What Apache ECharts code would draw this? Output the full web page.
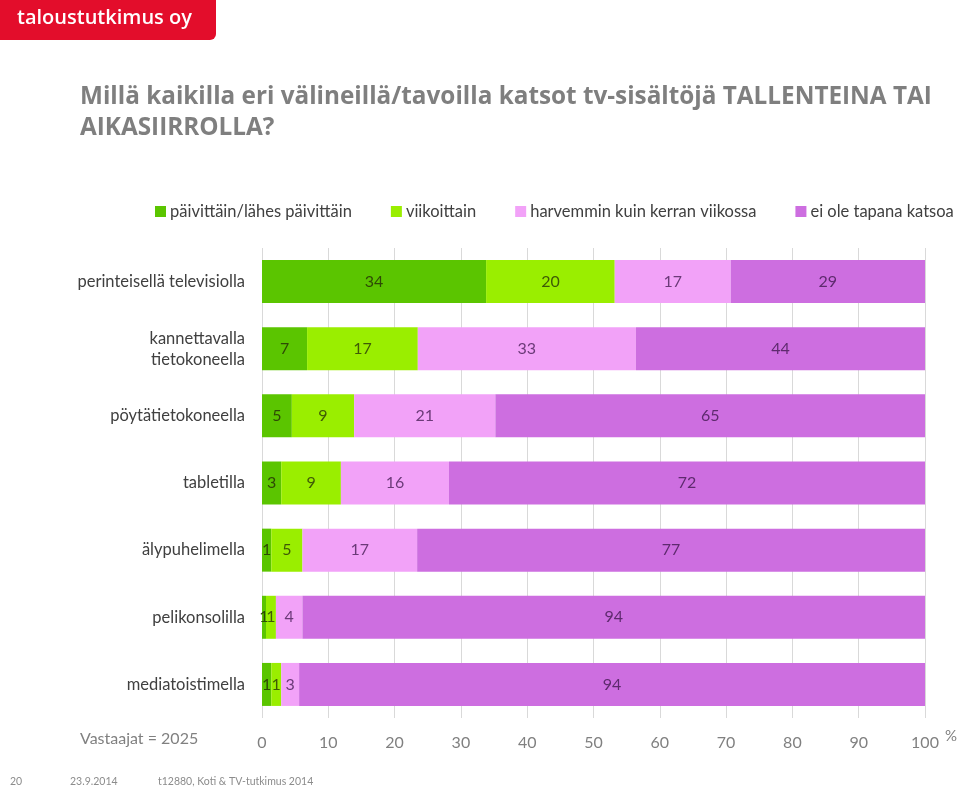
<!DOCTYPE html>
<html><head><meta charset="utf-8">
<script src="https://cdn.jsdelivr.net/npm/echarts@6/dist/echarts.min.js"></script>
<style>html,body{margin:0;padding:0;background:#fff}#c{width:960px;height:788px}</style>
</head><body><div id="c"></div>
<script>
var categories = ['perinteisellä televisiolla','kannettavalla\ntietokoneella','pöytätietokoneella','tabletilla','älypuhelimella','pelikonsolilla','mediatoistimella'];
var seriesNames = ['päivittäin/lähes päivittäin','viikoittain','harvemmin kuin kerran viikossa','ei ole tapana katsoa'];
// segment widths (%)
var daily   = [33.8, 6.8, 4.5, 2.9, 1.4, 0.6, 1.4];
var weekly  = [19.4, 16.7, 9.4, 9.0, 4.7, 1.5, 1.5];
var rarely  = [17.5, 32.9, 21.3, 16.3, 17.3, 4.0, 2.7];
var never   = [29.3, 43.6, 64.9, 71.8, 76.6, 93.9, 94.4];
// printed labels
var dailyLbl  = [34, 7, 5, 3, 1, 1, 1];
var weeklyLbl = [20, 17, 9, 9, 5, 1, 1];
var rarelyLbl = [17, 33, 21, 16, 17, 4, 3];
var neverLbl  = [29, 44, 65, 72, 77, 94, 94];
var xTicks = [0,10,20,30,40,50,60,70,80,90,100];

var colors = ['#5BC500','#9AEE00','#F2A2F8','#CD6EE0'];
var labelColors = ['#2E4A05','#3F5A06','#6B3A78','#5E2A6E'];
var values = [daily, weekly, rarely, never];
var labels = [dailyLbl, weeklyLbl, rarelyLbl, neverLbl];
var FONT = 'Lato, "Open Sans", sans-serif';

var chart = echarts.init(document.getElementById('c'), null, {renderer:'canvas'});
var series = seriesNames.map(function(n, i){
  return {
    name: n, type: 'bar', stack: 'all', barWidth: 43,
    itemStyle: {color: colors[i]},
    label: {show: true, position: 'inside', fontFamily: FONT, fontSize: 16, color: labelColors[i],
      formatter: function(p){ return labels[i][p.dataIndex]; }},
    data: values[i]
  };
});
chart.setOption({
  animation: false,
  textStyle: {fontFamily: FONT},
  legend: {
    left: 150, top: 198, width: 900, itemWidth: 11, itemHeight: 11, itemGap: 39, icon: 'rect',
    textStyle: {fontFamily: FONT, fontSize: 16.5, color: '#404040', padding: [0,0,0,-1]},
    data: seriesNames
  },
  grid: {left: 262, right: 35, top: 248, bottom: 70, containLabel: false},
  xAxis: {
    type: 'value', min: 0, max: 100, interval: 10,
    axisLine: {show: false}, axisTick: {show: false},
    splitLine: {show: true, lineStyle: {color: '#D9D9D9', width: 1}},
    axisLabel: {fontFamily: FONT, fontSize: 16, color: '#808080', margin: 17,
      formatter: function(v){ return xTicks.indexOf(v) >= 0 ? String(v) : ''; }}
  },
  yAxis: {
    type: 'category', inverse: true, data: categories,
    axisLine: {show: false}, axisTick: {show: false},
    axisLabel: {fontFamily: FONT, fontSize: 16.5, color: '#404040', margin: 17, lineHeight: 21, align: 'right'}
  },
  graphic: [
    {type: 'rect', left: 0, top: 0, shape: {width: 216, height: 40, r: [0,0,6,0]}, style: {fill: '#E30D2B'}},
    {type: 'text', left: 17, top: 8, style: {text: 'taloustutkimus oy', fill: '#fff', font: '600 20px "Open Sans", sans-serif'}},
    {type: 'text', left: 80, top: 85, style: {text: 'Millä kaikilla eri välineillä/tavoilla katsot tv-sisältöjä TALLENTEINA TAI', fill: '#7F7F7F', font: 'bold 24.3px "Open Sans", sans-serif'}},
    {type: 'text', left: 80, top: 116, style: {text: 'AIKASIIRROLLA?', fill: '#7F7F7F', font: 'bold 24.3px "Open Sans", sans-serif'}},
    {type: 'text', left: 80, top: 731, style: {text: 'Vastaajat = 2025', fill: '#808080', font: '16px ' + FONT}},
    {type: 'text', left: 945, top: 729, style: {text: '%', fill: '#808080', font: '15px ' + FONT}},
    {type: 'text', left: 10, top: 776, style: {text: '20', fill: '#8C8C8C', font: '10.5px ' + FONT}},
    {type: 'text', left: 70, top: 776, style: {text: '23.9.2014', fill: '#8C8C8C', font: '10.5px ' + FONT}},
    {type: 'text', left: 158, top: 776, style: {text: 't12880, Koti & TV-tutkimus 2014', fill: '#8C8C8C', font: '10.5px ' + FONT}}
  ],
  series: series
});
</script></body></html>
